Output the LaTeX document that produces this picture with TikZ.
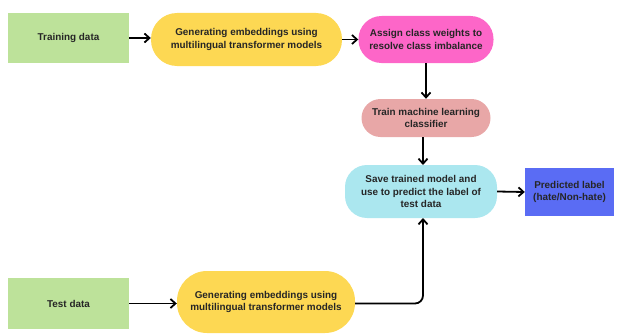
\documentclass[tikz,border=0pt]{standalone}
\usepackage{fontspec}
\setmainfont{Liberation Sans}
\usetikzlibrary{arrows.meta}
\definecolor{cgreen}{HTML}{BDE29A}
\definecolor{cyellow}{HTML}{FDD853}
\definecolor{cpink}{HTML}{FD66C8}
\definecolor{crose}{HTML}{E8A7A7}
\definecolor{ccyan}{HTML}{ABE7EF}
\definecolor{cblue}{HTML}{5A6CF4}
\begin{document}
\begin{tikzpicture}[x=1pt,y=1pt,
  every node/.style={font=\fontsize{9.9}{12.2}\selectfont\bfseries, align=center, inner sep=0pt, text=black!85},
  pill/.style={rectangle},
  arr/.style={-{Straight Barb[length=5pt,width=9pt]}, line width=1.8pt, black}]
\useasboundingbox (0,0) rectangle (619,333);
\node[fill=cgreen, minimum width=121pt, minimum height=50pt] (train) at (68.5,295) {Training data};
\node[pill, fill=cyellow, minimum width=191pt, minimum height=53pt, rounded corners=26pt] (gen1) at (246.5,293.5) {Generating embeddings using\\multilingual transformer models};
\node[pill, fill=cpink, minimum width=135pt, minimum height=47pt, rounded corners=23pt] (assign) at (426,293.5) {Assign class weights to\\resolve class imbalance};
\node[pill, fill=crose, minimum width=129pt, minimum height=38pt, rounded corners=19pt] (ml) at (426,215) {Train machine learning\\classifier};
\node[pill, fill=ccyan, minimum width=152pt, minimum height=53pt, rounded corners=22pt] (save) at (421,141.5) {Save trained model and\\use to predict the label of\\test data};
\node[fill=cblue, minimum width=89pt, minimum height=48pt] (pred) at (569.5,141) {Predicted label\\(hate/Non-hate)};
\node[fill=cgreen, minimum width=121pt, minimum height=51pt] (test) at (68.5,29.5) {Test data};
\node[pill, fill=cyellow, minimum width=178pt, minimum height=62pt, rounded corners=30pt] (gen2) at (266,31) {Generating embeddings using\\multilingual transformer models};
\draw[arr] (train.east) -- (gen1.west |- train.east);
\draw[arr] (gen1.east) -- (assign.west);
\draw[arr] (assign.south) -- (ml.north);
\draw[arr] (423,196) -- (423,168);
\draw[arr] (save.east) -- (pred.west);
\draw[arr] (test.east) -- (gen2.west |- test.east);
\draw[arr, rounded corners=8pt] (gen2.east |- test.east) -- (423,29.5) -- (423,115);
\end{tikzpicture}
\end{document}
